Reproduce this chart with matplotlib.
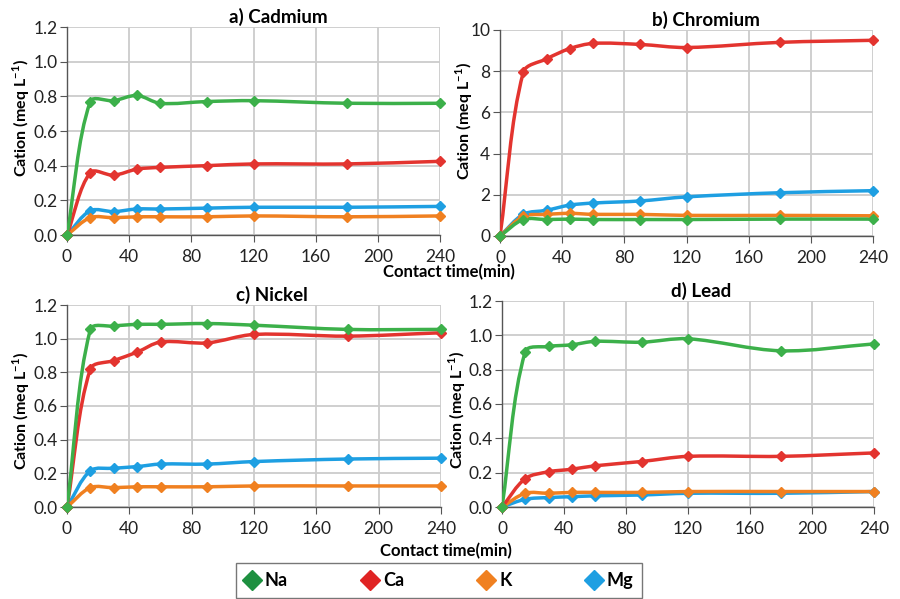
import matplotlib
matplotlib.use("Agg")
import matplotlib.pyplot as plt
from matplotlib.path import Path
from matplotlib.patches import PathPatch
from matplotlib.lines import Line2D
import numpy as np

plt.rcParams['font.family'] = ['Lato', 'DejaVu Sans']
plt.rcParams['mathtext.fontset'] = 'custom'
plt.rcParams['mathtext.rm'] = 'Lato'
plt.rcParams['mathtext.bf'] = 'Lato:bold'

time = [0, 15, 30, 45, 60, 90, 120, 180, 240]
cations = ["Na", "Ca", "K", "Mg"]
colors = {"Na": "#3cb04a", "Ca": "#e3342f", "K": "#f08020", "Mg": "#1e9fe2"}
legend_colors = {"Na": "#1e9040", "Ca": "#e02424", "K": "#f08020", "Mg": "#1e9fe2"}

cadmium_na = [0, 0.77, 0.775, 0.805, 0.76, 0.77, 0.775, 0.76, 0.76]
cadmium_ca = [0, 0.36, 0.345, 0.38, 0.39, 0.40, 0.41, 0.41, 0.425]
cadmium_k = [0, 0.10, 0.10, 0.105, 0.105, 0.105, 0.11, 0.105, 0.11]
cadmium_mg = [0, 0.14, 0.135, 0.15, 0.15, 0.155, 0.16, 0.16, 0.165]

chromium_na = [0, 0.8, 0.8, 0.82, 0.8, 0.8, 0.8, 0.82, 0.82]
chromium_ca = [0, 7.95, 8.6, 9.1, 9.35, 9.3, 9.15, 9.4, 9.5]
chromium_k = [0, 0.95, 1.05, 1.1, 1.05, 1.05, 1.0, 1.0, 0.98]
chromium_mg = [0, 1.05, 1.25, 1.5, 1.6, 1.7, 1.9, 2.1, 2.2]

nickel_na = [0, 1.055, 1.075, 1.085, 1.085, 1.09, 1.08, 1.055, 1.055]
nickel_ca = [0, 0.82, 0.87, 0.92, 0.98, 0.975, 1.025, 1.015, 1.035]
nickel_k = [0, 0.115, 0.115, 0.12, 0.12, 0.12, 0.125, 0.125, 0.125]
nickel_mg = [0, 0.215, 0.23, 0.24, 0.255, 0.255, 0.27, 0.285, 0.29]

lead_na = [0, 0.905, 0.935, 0.945, 0.965, 0.96, 0.98, 0.91, 0.95]
lead_ca = [0, 0.165, 0.205, 0.22, 0.24, 0.265, 0.295, 0.295, 0.315]
lead_k = [0, 0.08, 0.08, 0.085, 0.085, 0.085, 0.09, 0.09, 0.09]
lead_mg = [0, 0.045, 0.055, 0.06, 0.065, 0.07, 0.08, 0.08, 0.09]

# (title, data, axes box in px [l, t, r, b], ymax, ystep, fmt, title centre px, ylabel (right px, centre px))
panels = [
    ("a) Cadmium", {"Na": cadmium_na, "Ca": cadmium_ca, "K": cadmium_k, "Mg": cadmium_mg},
     [67, 27, 440, 235], 1.2, 0.2, "%.1f", 278, (32, 118)),
    ("b) Chromium", {"Na": chromium_na, "Ca": chromium_ca, "K": chromium_k, "Mg": chromium_mg},
     [500, 30, 873, 236], 10, 2, "%d", 706, (475, 121)),
    ("c) Nickel", {"Na": nickel_na, "Ca": nickel_ca, "K": nickel_k, "Mg": nickel_mg},
     [67, 305, 441, 507], 1.2, 0.2, "%.1f", 272, (32, 411)),
    ("d) Lead", {"Na": lead_na, "Ca": lead_ca, "K": lead_k, "Mg": lead_mg},
     [502, 301, 874, 507], 1.2, 0.2, "%.1f", 701, (468, 410)),
]
draw_order = ["Mg", "K", "Ca", "Na"]

W, H = 900, 599
fig = plt.figure(figsize=(9, 5.99), dpi=100)


def smooth_path(x, y, sx, sy):
    """Smooth curve through the data points (chord-length scaled Catmull-Rom Bezier)."""
    pts = np.column_stack([x, y]).astype(float)
    n = len(pts)
    scale = np.array([sx, sy])
    d = [np.linalg.norm((pts[i + 1] - pts[i]) * scale) for i in range(n - 1)]
    c_out = [None] * n
    c_in = [None] * n
    for i in range(n):
        if i == 0:
            c_out[i] = pts[0] + (pts[1] - pts[0]) / 3.0
            continue
        if i == n - 1:
            c_in[i] = pts[i] - (pts[i] - pts[i - 1]) / 3.0
            continue
        T = pts[i + 1] - pts[i - 1]
        dp, dn = d[i - 1], d[i]
        tot = dp + dn if dp + dn > 0 else 1.0
        c_out[i] = pts[i] + T * dn / tot / 3.0
        c_in[i] = pts[i] - T * dp / tot / 3.0
    verts = [pts[0]]
    codes = [Path.MOVETO]
    for i in range(n - 1):
        verts += [c_out[i], c_in[i + 1], pts[i + 1]]
        codes += [Path.CURVE4] * 3
    return Path(verts, codes)


for title, data, (l, t, r, b), ymax, ystep, fmt, tcx, (ylx, ylc) in panels:
    ax = fig.add_axes([l / W, (H - b) / H, (r - l) / W, (b - t) / H])
    ax.set_xlim(0, 240)
    ax.set_ylim(0, ymax)
    ax.set_xticks(np.arange(0, 241, 40))
    ax.set_yticks(np.arange(0, ymax + ystep / 2, ystep))
    ax.yaxis.set_major_formatter(matplotlib.ticker.FormatStrFormatter(fmt))
    ax.grid(True, color="#cccccc", lw=1.3)
    ax.set_axisbelow(True)
    for s in ["top", "right"]:
        ax.spines[s].set_visible(False)
    for s in ["left", "bottom"]:
        ax.spines[s].set_color("#555555")
        ax.spines[s].set_linewidth(1.0)
    ax.tick_params(labelsize=12.5, length=5, color="#555555", labelcolor="#222222")
    ax.tick_params(axis="x", pad=5)
    ax.tick_params(axis="y", pad=2)
    sx = (r - l) / 240.0
    sy = (b - t) / ymax
    for c in draw_order:
        y = data[c]
        ax.add_patch(PathPatch(smooth_path(time, y, sx, sy), fill=False, edgecolor=colors[c],
                               lw=2.5, transform=ax.transData, zorder=3, capstyle='round',
                               joinstyle='round'))
        ax.plot(time, y, ls="none", marker="D", ms=5.5, color=colors[c], zorder=4, clip_on=False)
    ax.set_title(title, fontsize=13.5, fontweight="bold", pad=3, x=(tcx - l) / (r - l))
    ax.set_ylabel(r"Cation (meq L$^{\mathbf{-1}}$)", fontsize=11.5, fontweight="bold")
    ax.yaxis.set_label_coords((ylx - l) / (r - l), (b - ylc) / (b - t))

fig.text(449 / W, 1 - 272 / H, "Contact time(min)", ha="center", va="center",
         fontsize=12, fontweight="bold")
fig.text(446 / W, 1 - 551 / H, "Contact time(min)", ha="center", va="center",
         fontsize=12, fontweight="bold")

handles = [Line2D([], [], ls="none", marker="D", ms=10, color=legend_colors[c]) for c in cations]
leg = fig.legend(handles, cations, loc="upper left", ncol=4, mode="expand",
                 bbox_to_anchor=(236 / W, 0, 406 / W, (H - 563) / H),
                 prop={"weight": "bold", "size": 13}, frameon=True, fancybox=False,
                 handlelength=0.8, handletextpad=0.3, borderpad=0.5, borderaxespad=0)
leg.get_frame().set_edgecolor("#555555")
leg.get_frame().set_linewidth(1.0)

fig.savefig("out.png", dpi=100)
